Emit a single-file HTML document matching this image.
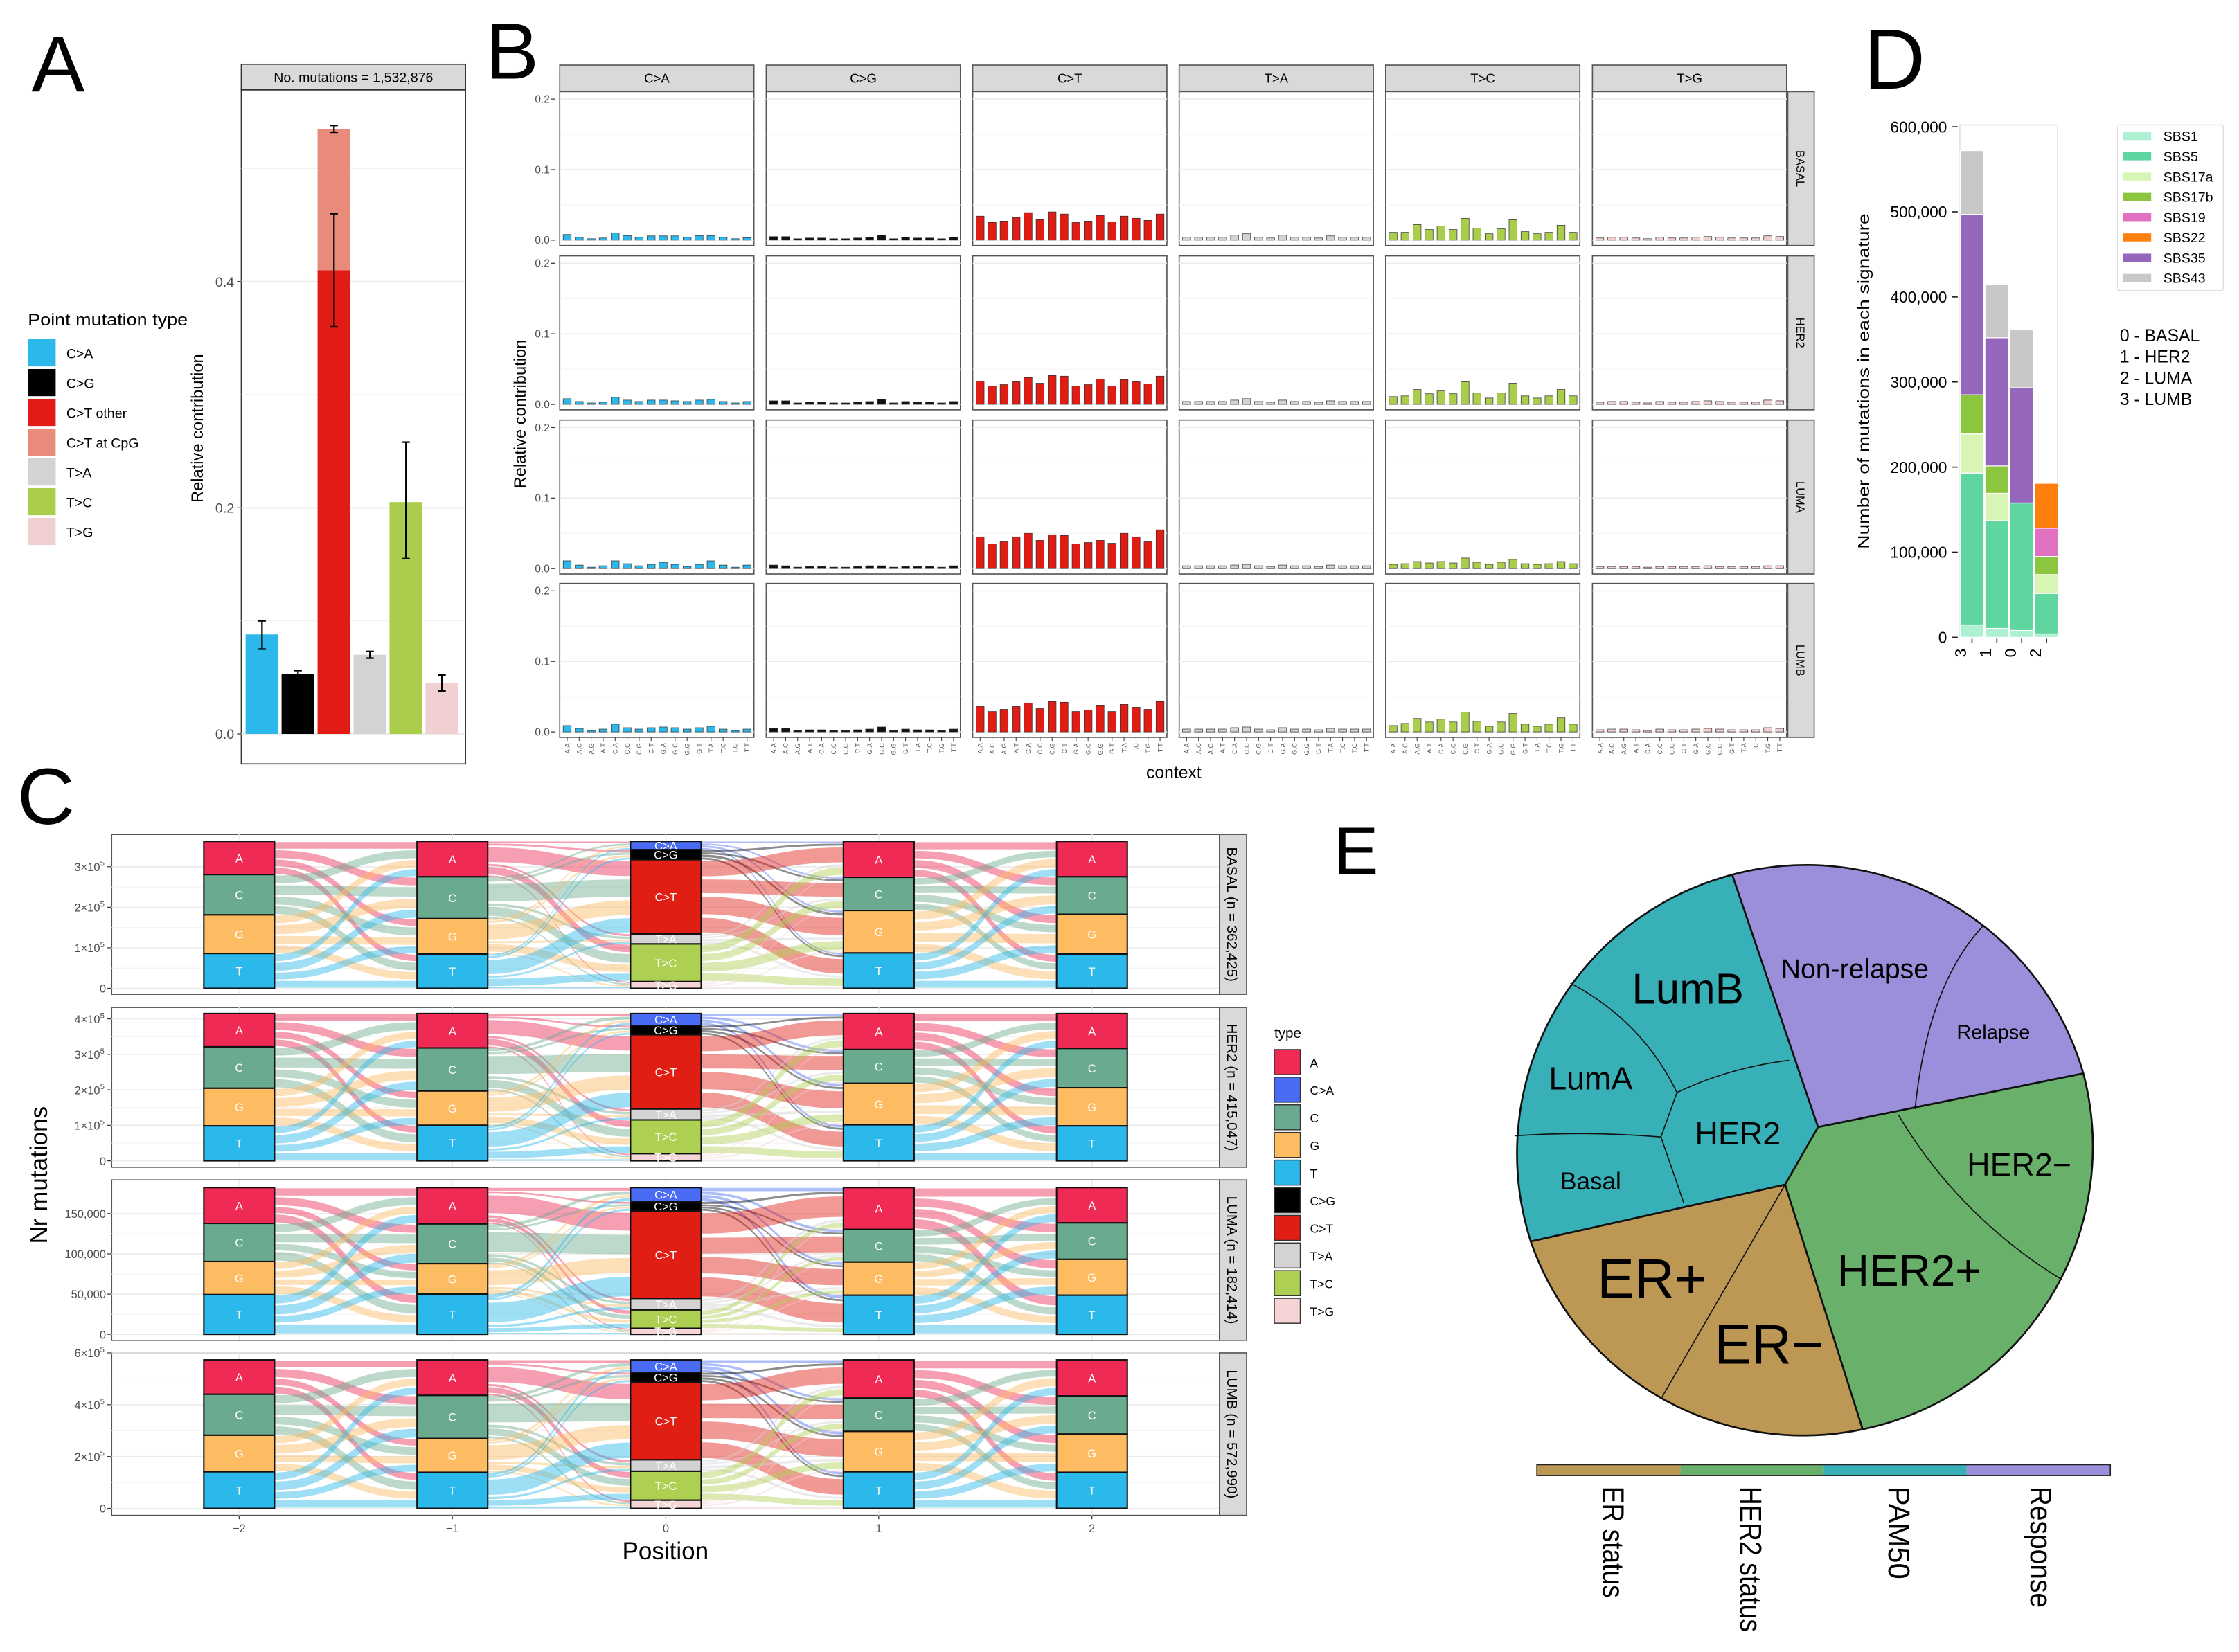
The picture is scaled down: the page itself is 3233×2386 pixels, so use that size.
<!DOCTYPE html>
<html><head><meta charset="utf-8"><style>
html,body{margin:0;padding:0;background:#fff;}
svg{display:block;}
text{font-family:"Liberation Sans",sans-serif;}
</style></head>
<body>
<svg id="fig" xmlns="http://www.w3.org/2000/svg" width="3233" height="2386" viewBox="0 0 1568 1157" preserveAspectRatio="none">
<rect x="0" y="0" width="1568" height="1157" fill="#fff"/>
</svg>
<script>
// ---------------- Panel A data ----------------
const aCats=['C>A','C>G','C>T other','T>A','T>C','T>G'];
const aVals=[0.088,0.053,0.41,0.07,0.205,0.045];
const aErrLo=[0.075,0.051,0.36,0.067,0.155,0.038];
const aErrHi=[0.100,0.056,0.46,0.073,0.258,0.052];
const aCpgTotal=0.535;
const aCpgErr=[0.532,0.538];
const aTicks=[0,0.2,0.4];
const aTickLabels=['0.0','0.2','0.4'];
const aLegend=['C>A','C>G','C>T other','C>T at CpG','T>A','T>C','T>G'];
const aColors=['#2cb8ea','#000000','#e01c14','#e98b7a','#d3d3d3','#abcd4c','#f0d0d0'];

// ---------------- Panel B data ----------------
const bTypes=['C>A','C>G','C>T','T>A','T>C','T>G'];
const bSubtypes=['BASAL','HER2','LUMA','LUMB'];
const bContexts=['A.A','A.C','A.G','A.T','C.A','C.C','C.G','C.T','G.A','G.C','G.G','G.T','T.A','T.C','T.G','T.T'];
const bTicks=[0,0.1,0.2];
const bTickLabels=['0.0','0.1','0.2'];
const BASAL_CA=[0.008,0.004,0.002,0.003,0.010,0.0065,0.004,0.006,0.006,0.006,0.004,0.0065,0.0065,0.004,0.002,0.0035];
const BASAL_CG=[0.005,0.005,0.002,0.003,0.003,0.002,0.002,0.003,0.004,0.007,0.002,0.004,0.003,0.003,0.002,0.004];
const BASAL_CT=[0.034,0.025,0.027,0.032,0.039,0.029,0.040,0.037,0.025,0.027,0.035,0.026,0.034,0.031,0.028,0.037];
const BASAL_TA=[0.004,0.004,0.004,0.004,0.007,0.009,0.004,0.003,0.007,0.004,0.004,0.003,0.006,0.004,0.004,0.004];
const BASAL_TC=[0.011,0.011,0.022,0.015,0.020,0.015,0.031,0.017,0.009,0.016,0.029,0.012,0.009,0.011,0.021,0.011];
const BASAL_TG=[0.003,0.004,0.004,0.003,0.002,0.004,0.003,0.003,0.004,0.005,0.004,0.003,0.003,0.003,0.006,0.005];
const HER2_CA=[0.008,0.004,0.002,0.003,0.010,0.006,0.004,0.006,0.006,0.005,0.004,0.006,0.007,0.004,0.002,0.004];
const HER2_CG=[0.005,0.005,0.002,0.003,0.003,0.002,0.002,0.003,0.004,0.007,0.002,0.004,0.003,0.003,0.002,0.004];
const HER2_CT=[0.033,0.026,0.028,0.032,0.038,0.030,0.041,0.040,0.026,0.028,0.036,0.026,0.035,0.032,0.029,0.040];
const HER2_TA=[0.004,0.004,0.004,0.004,0.006,0.008,0.004,0.003,0.006,0.004,0.004,0.003,0.005,0.004,0.004,0.004];
const HER2_TC=[0.011,0.012,0.021,0.015,0.019,0.015,0.032,0.016,0.009,0.016,0.030,0.012,0.009,0.012,0.021,0.012];
const HER2_TG=[0.003,0.004,0.004,0.003,0.002,0.004,0.003,0.003,0.004,0.005,0.004,0.003,0.003,0.003,0.006,0.005];
const LUMA_CA=[0.011,0.005,0.002,0.004,0.011,0.007,0.004,0.006,0.009,0.006,0.003,0.006,0.011,0.005,0.002,0.005];
const LUMA_CG=[0.005,0.004,0.002,0.003,0.003,0.002,0.002,0.003,0.004,0.004,0.002,0.003,0.003,0.003,0.002,0.004];
const LUMA_CT=[0.045,0.035,0.038,0.045,0.050,0.040,0.048,0.047,0.035,0.037,0.040,0.036,0.050,0.045,0.038,0.055];
const LUMA_TA=[0.004,0.004,0.004,0.004,0.005,0.006,0.004,0.003,0.005,0.004,0.004,0.003,0.005,0.004,0.004,0.004];
const LUMA_TC=[0.006,0.007,0.010,0.008,0.010,0.008,0.015,0.009,0.006,0.009,0.013,0.007,0.006,0.007,0.010,0.007];
const LUMA_TG=[0.003,0.003,0.003,0.003,0.002,0.003,0.003,0.003,0.003,0.004,0.003,0.003,0.003,0.003,0.004,0.004];
const LUMB_CA=[0.009,0.005,0.002,0.004,0.011,0.006,0.004,0.006,0.007,0.006,0.004,0.006,0.008,0.004,0.002,0.004];
const LUMB_CG=[0.005,0.005,0.002,0.003,0.003,0.002,0.002,0.003,0.004,0.007,0.002,0.004,0.003,0.003,0.002,0.004];
const LUMB_CT=[0.036,0.029,0.032,0.036,0.041,0.033,0.043,0.042,0.029,0.031,0.038,0.029,0.039,0.035,0.032,0.043];
const LUMB_TA=[0.004,0.004,0.004,0.004,0.006,0.007,0.004,0.003,0.006,0.004,0.004,0.003,0.005,0.004,0.004,0.004];
const LUMB_TC=[0.009,0.012,0.019,0.014,0.018,0.014,0.028,0.015,0.008,0.014,0.026,0.011,0.008,0.011,0.020,0.011];
const LUMB_TG=[0.003,0.004,0.004,0.003,0.002,0.004,0.003,0.003,0.004,0.005,0.004,0.003,0.003,0.003,0.006,0.005];
const bColors=['#2cb8ea','#111111','#e01c14','#d3d3d3','#abcd4c','#f0d0d0'];

// ---------------- Panel C data ----------------
const cSubtypes=['BASAL','HER2','LUMA','LUMB'];
const cTotals=[362425,415047,182414,572990];
const cTotalLabels=['362,425','415,047','182,414','572,990'];
const cBases=['A','C','G','T'];
const cMuts=['C>A','C>G','C>T','T>A','T>C','T>G'];
const cPositions=['\u22122','\u22121','0','1','2'];
const cBasalFlank=[[61,74,71,64],[65,77,65,63],[66,61,78,65],[65,69,73,63]];
const cHer2Flank=[[61,76,69,64],[63,79,63,65],[66,62,76,66],[64,72,70,64]];
const cLumaFlank=[[66,70,61,73],[67,73,56,74],[77,60,61,72],[65,67,66,72]];
const cLumbFlank=[[63,75,67,67],[65,79,62,66],[70,61,74,67],[66,70,70,66]];
const cBasalMut=[15,18,134,18,68,12];
const cHer2Mut=[22,17,136,20,62,13];
const cLumaMut=[26,17,161,21,34,11];
const cLumbMut=[23,18,142,21,53,15];
const cTickVals=[[0,100000,200000,300000],[0,100000,200000,300000,400000],[0,50000,100000,150000],[0,200000,400000,600000]];
const cTickLabels=[['0','1\u00d710|5','2\u00d710|5','3\u00d710|5'],['0','1\u00d710|5','2\u00d710|5','3\u00d710|5','4\u00d710|5'],['0','50,000','100,000','150,000'],['0','2\u00d710|5','4\u00d710|5','6\u00d710|5']];
const cLegend=['A','C>A','C','G','T','C>G','C>T','T>A','T>C','T>G'];
const cColorMap={'A':'#ee2a55','C>A':'#4a6cf5','C':'#6aaa8f','G':'#fdbb62','T':'#2bb8ea','C>G':'#000000','C>T':'#e01e14','T>A':'#d3d3d3','T>C':'#aed052','T>G':'#f4d4d4'};

// ---------------- Panel D data ----------------
const dGroups=['3','1','0','2'];
const dSigs=['SBS1','SBS5','SBS17a','SBS17b','SBS19','SBS22','SBS35','SBS43'];
const dSBS1=[14500,10400,8000,4000];
const dSBS5=[178500,126600,149800,47400];
const dSBS17a=[46000,32200,0,22300];
const dSBS17b=[46000,32200,0,21300];
const dSBS19=[0,0,0,33200];
const dSBS22=[0,0,0,52800];
const dSBS35=[212000,150600,135500,0];
const dSBS43=[75000,63000,68000,0];
const dTicks=[0,100000,200000,300000,400000,500000,600000];
const dTickLabels=['0','100,000','200,000','300,000','400,000','500,000','600,000'];
const dColors=['#aef0d2','#5fd6a0','#d9f5b5','#8cc63f','#e070c0','#ff7f0e','#9467bd','#c8c8c8'];
const dGroupNames=['0 - BASAL','1 - HER2','2 - LUMA','3 - LUMB'];

// ---------------- Panel E data ----------------
const eCategories=['ER status','HER2 status','PAM50','Response'];
const eColors=['#bd9855','#69b06b','#37b0b8','#9b8fdb'];

const NS='http://www.w3.org/2000/svg';
const svg=document.getElementById('fig');
function mk(tag,attrs,parent){const e=document.createElementNS(NS,tag);for(const k in attrs)e.setAttribute(k,attrs[k]);(parent||svg).appendChild(e);return e;}
function txt(x,y,s,size,anchor,parent,extra){const e=mk('text',Object.assign({x:x,y:y,'font-size':size,'text-anchor':anchor||'start',fill:'#000'},extra||{}),parent);e.textContent=s;return e;}
function grp(parent){return mk('g',{},parent);}

[['A',22,64,56],['B',340,55,56],['C',12,577,56],['D',1305,62,60],['E',934,612,47]].forEach(function(p){
  const t=txt(p[1],p[2],p[0],p[3],'start',svg,{'font-family':'DejaVu Sans, sans-serif'});
  
  
});

// ================= PANEL A =================
(function(){
  const g=grp();
  
  
  const X0=169,X1=326,Y0=63,Y1=535;
  const yA=v=>514-v*792;
  mk('rect',{x:X0,y:45,width:X1-X0,height:18,fill:'#d9d9d9',stroke:'#333','stroke-width':0.8},g);
  const st=txt((X0+X1)/2,57.5,'No. mutations =  1,532,876',9.5,'middle',g);
  
  
  mk('rect',{x:X0,y:Y0,width:X1-X0,height:Y1-Y0,fill:'#fff',stroke:'#333','stroke-width':0.8},g);
  [0.1,0.3,0.5].forEach(v=>mk('line',{x1:X0,x2:X1,y1:yA(v),y2:yA(v),stroke:'#f2f2f2','stroke-width':0.6},g));
  aTicks.forEach((v,i)=>{
    mk('line',{x1:X0,x2:X1,y1:yA(v),y2:yA(v),stroke:'#ebebeb','stroke-width':1},g);
    mk('line',{x1:X0-3,x2:X0,y1:yA(v),y2:yA(v),stroke:'#333','stroke-width':0.6},g);
    const t=txt(X0-5,yA(v)+3.5,aTickLabels[i],9.5,'end',g,{fill:'#4d4d4d'});
    
    
  });
  const step=25.2,bw=23;
  const xb=i=>172+i*step;
  aVals.forEach((v,i)=>{
    const col=i<2?aColors[i]:(i===2?aColors[2]:aColors[i+1]);
    if(i===2){
      const c=mk('rect',{x:xb(i),y:yA(aCpgTotal),width:bw,height:yA(v)-yA(aCpgTotal),fill:aColors[3]},g);
      
      
    }
    const r=mk('rect',{x:xb(i),y:yA(v),width:bw,height:yA(0)-yA(v),fill:col},g);
    
    
  });
  function err(cx,lo,hi){
    mk('line',{x1:cx,x2:cx,y1:yA(lo),y2:yA(hi),stroke:'#000','stroke-width':1.1},g);
    mk('line',{x1:cx-2.7,x2:cx+2.7,y1:yA(lo),y2:yA(lo),stroke:'#000','stroke-width':1.1},g);
    mk('line',{x1:cx-2.7,x2:cx+2.7,y1:yA(hi),y2:yA(hi),stroke:'#000','stroke-width':1.1},g);
  }
  aVals.forEach((v,i)=>err(xb(i)+bw/2,aErrLo[i],aErrHi[i]));
  err(xb(2)+bw/2,aCpgErr[0],aCpgErr[1]);
  const yt=txt(0,0,'Relative contribution',11.5,'middle',g,{transform:'translate(142,300) rotate(-90)'});
  
  
  const lt=txt(19.5,228,'Point mutation type',11.5,'start',g,{textLength:112,lengthAdjust:'spacingAndGlyphs'});
  
  
  aLegend.forEach((s,i)=>{
    const y=237.6+i*20.85;
    const sw=mk('rect',{x:19.5,y:y,width:19.5,height:19,fill:aColors[i]},g);
    
    
    const t=txt(46.5,y+13.3,s,9.5,'start',g);
    
    
  });
})();

// ================= PANEL B =================
(function(){
  const g=grp();
  
  
  const colX=[392,536.6,681.2,825.8,970.4,1115.2],W=136;
  const rowY=[64.2,179.2,294.2,408.6],H=107.8;
  const data={BASAL:[BASAL_CA,BASAL_CG,BASAL_CT,BASAL_TA,BASAL_TC,BASAL_TG],HER2:[HER2_CA,HER2_CG,HER2_CT,HER2_TA,HER2_TC,HER2_TG],LUMA:[LUMA_CA,LUMA_CG,LUMA_CT,LUMA_TA,LUMA_TC,LUMA_TG],LUMB:[LUMB_CA,LUMB_CG,LUMB_CT,LUMB_TA,LUMB_TC,LUMB_TG]};
  bTypes.forEach((t,c)=>{
    mk('rect',{x:colX[c],y:45.6,width:W,height:18.6,fill:'#d9d9d9',stroke:'#555','stroke-width':0.8},g);
    const s=txt(colX[c]+W/2,58,t,9,'middle',g);
    
    
  });
  bSubtypes.forEach((sub,r)=>{
    const top=rowY[r];
    const y=v=>top+104-v*494;
    mk('rect',{x:1252,y:top,width:18.5,height:H,fill:'#d9d9d9',stroke:'#555','stroke-width':0.8},g);
    const rs=txt(0,0,sub,8,'middle',g,{transform:'translate('+1258+','+(top+H/2)+') rotate(90)'});
    
    
    bTicks.forEach((v,i)=>{
      mk('line',{x1:386,x2:389,y1:y(v),y2:y(v),stroke:'#333','stroke-width':0.6},g);
      const tl=txt(385,y(v)+2.6,bTickLabels[i],7.5,'end',g,{fill:'#4d4d4d'});
      
      
    });
    bTypes.forEach((t,c)=>{
      const x0=colX[c];
      mk('rect',{x:x0,y:top,width:W,height:H,fill:'#fff',stroke:'#555','stroke-width':0.8},g);
      [0.05,0.15].forEach(v=>mk('line',{x1:x0,x2:x0+W,y1:y(v),y2:y(v),stroke:'#f3f3f3','stroke-width':0.5},g));
      bTicks.forEach(v=>mk('line',{x1:x0,x2:x0+W,y1:y(v),y2:y(v),stroke:'#ebebeb','stroke-width':0.8},g));
      data[sub][c].forEach((v,i)=>{
        const cx=x0+5.2+i*8.4;
        const b=mk('rect',{x:cx-2.8,y:y(v),width:5.6,height:y(0)-y(v),fill:bColors[c],stroke:'#333','stroke-width':0.35},g);
        
        
      });
      if(r===3){
        bContexts.forEach((cx_,i)=>{
          const cx=x0+5.2+i*8.4;
          mk('line',{x1:cx,x2:cx,y1:top+H,y2:top+H+2.5,stroke:'#333','stroke-width':0.5},g);
          const lbl=txt(0,0,cx_,4.6,'end',g,{fill:'#555',transform:'translate('+(cx+1.6)+','+(top+H+4)+') rotate(-90)'});
          
          
        });
      }
    });
  });
  const xt=txt(822,545,'context',12,'middle',g);
  
  
  const yt=txt(0,0,'Relative contribution',11.5,'middle',g,{transform:'translate(368,290) rotate(-90)'});
  
  
})();

// ================= PANEL C =================
(function(){
  const g=grp();
  
  
  const PX0=78.2,PX1=854;
  const panels=[[584.4,696.4,692.2,607],[705.6,817.5,813,713.6],[826.4,938.7,934.5,850],[947.5,1061.3,1056.4,947.5]];
  const colCx=[167.5,316.8,466.3,615.4,764.7],NW=49.5;
  const flanks=[cBasalFlank,cHer2Flank,cLumaFlank,cLumbFlank];
  const muts=[cBasalMut,cHer2Mut,cLumaMut,cLumbMut];
  function norm(a){const s=a.reduce((p,q)=>p+q,0);return a.map(v=>v/s);}
  cSubtypes.forEach((sub,p)=>{
    const [top,bot,zeroY,tickY]=panels[p];
    const ticks=cTickVals[p];
    const tmax=ticks[ticks.length-1];
    const y=v=>zeroY-v/tmax*(zeroY-tickY);
    const pg=grp(g);
    
    
    mk('rect',{x:PX0,y:top,width:PX1-PX0,height:bot-top,fill:'#fff',stroke:'#555','stroke-width':0.8},pg);
    for(let i=0;i<ticks.length-1;i++){const mv=(ticks[i]+ticks[i+1])/2;mk('line',{x1:PX0,x2:PX1,y1:y(mv),y2:y(mv),stroke:'#f2f2f2','stroke-width':0.5},pg);}
    ticks.forEach((v,i)=>{
      mk('line',{x1:PX0,x2:PX1,y1:y(v),y2:y(v),stroke:'#ebebeb','stroke-width':0.8},pg);
      mk('line',{x1:PX0-3,x2:PX0,y1:y(v),y2:y(v),stroke:'#333','stroke-width':0.6},pg);
      const parts=cTickLabels[p][i].split('|');
      const t=txt(PX0-4,y(v)+3,parts[0],8,'end',pg,{fill:'#4d4d4d'});
      if(parts.length>1){t.textContent=parts[0];const sp=mk('tspan',{dy:-3.5,'font-size':5.5},t);sp.textContent=parts[1];t.setAttribute('x',PX0-5);}
      
      
    });
    colCx.forEach(cx=>mk('line',{x1:cx,x2:cx,y1:top,y2:bot,stroke:'#ebebeb','stroke-width':0.8},pg));
    mk('rect',{x:PX1,y:top,width:19,height:bot-top,fill:'#d9d9d9',stroke:'#555','stroke-width':0.8},pg);
    const st=txt(0,0,sub+' (n = '+cTotalLabels[p]+')',10,'middle',pg,{transform:'translate('+(PX1+5.5)+','+((top+bot)/2)+') rotate(90)'});
    
    
    const total=cTotals[p];
    const cols=[
      {labels:cBases,fr:norm(flanks[p][0])},
      {labels:cBases,fr:norm(flanks[p][1])},
      {labels:cMuts,fr:norm(muts[p])},
      {labels:cBases,fr:norm(flanks[p][2])},
      {labels:cBases,fr:norm(flanks[p][3])}];
    const nodeTop=y(total);
    const H=zeroY-nodeTop;
    cols.forEach(c=>{let acc=nodeTop;c.y0=[];c.h=[];c.fr.forEach(f=>{c.y0.push(acc);c.h.push(f*H);acc+=f*H;});});
    const fg=grp(pg);
    for(let k=0;k<4;k++){
      const L=cols[k],R=cols[k+1];
      const x1=colCx[k]+NW/2,x2=colCx[k+1]-NW/2,xm=(x1+x2)/2;
      const outOff=L.fr.map(()=>0),inOff=R.fr.map(()=>0);
      const ribbons=[];
      L.fr.forEach((fl,i)=>{R.fr.forEach((fr_,j)=>{ribbons.push({i:i,j:j,h:fl*fr_*H});});});
      ribbons.forEach(rb=>{rb.ly=L.y0[rb.i]+outOff[rb.i];outOff[rb.i]+=rb.h;});
      ribbons.slice().sort((a,b)=>a.j-b.j||a.i-b.i).forEach(rb=>{rb.ry=R.y0[rb.j]+inOff[rb.j];inOff[rb.j]+=rb.h;});
      ribbons.forEach(rb=>{
        const sh=rb.h*0.82,pad=(rb.h-sh)/2;
        const a=rb.ly+pad,b=rb.ry+pad;
        const d='M'+x1+','+a+' C'+xm+','+a+' '+xm+','+b+' '+x2+','+b+' L'+x2+','+(b+sh)+' C'+xm+','+(b+sh)+' '+xm+','+(a+sh)+' '+x1+','+(a+sh)+' Z';
        const colorKey=L.labels[rb.i];
        const f=mk('path',{d:d,fill:cColorMap[colorKey],'fill-opacity':0.45},fg);
        
        
      });
    }
    cols.forEach((c,k)=>{
      c.labels.forEach((lab,i)=>{
        const r=mk('rect',{x:colCx[k]-NW/2,y:c.y0[i],width:NW,height:c.h[i],fill:cColorMap[lab],stroke:'#111','stroke-width':1},pg);
        
        
        const t=txt(colCx[k],c.y0[i]+c.h[i]/2+3,lab,8,'middle',pg,{fill:'#fff'});
        
        
      });
    });
  });
  cPositions.forEach((s,i)=>{
    mk('line',{x1:colCx[i],x2:colCx[i],y1:1061.3,y2:1064,stroke:'#333','stroke-width':0.6},g);
    const t=txt(colCx[i],1073,s,8,'middle',g,{fill:'#4d4d4d'});
    
    
  });
  const xt=txt(466,1092,'Position',17,'middle',g);
  
  
  const yt=txt(0,0,'Nr mutations',17,'middle',g,{transform:'translate(33,823) rotate(-90)'});
  
  
  const lt=txt(892.4,727,'type',10,'start',g);
  
  
  cLegend.forEach((s,i)=>{
    const yy=735.1+i*19.35;
    const r=mk('rect',{x:892.4,y:yy,width:18.2,height:17.5,fill:cColorMap[s],stroke:'#333','stroke-width':0.7},g);
    
    
    const t=txt(917.4,yy+12.3,s,8.5,'start',g);
    
    
  });
})();

// ================= PANEL D =================
(function(){
  const g=grp();
  
  
  const X0=1372.5,X1=1441,Y0=87.5,Y1=446.3;
  const y=v=>446.3-v/600000*357.5;
  mk('rect',{x:X0,y:Y0,width:X1-X0,height:Y1-Y0,fill:'#fff',stroke:'#e0e0e0','stroke-width':0.8},g);
  dTicks.forEach((v,i)=>{
    mk('line',{x1:X0-5.5,x2:X0-1.5,y1:y(v),y2:y(v),stroke:'#222','stroke-width':0.8},g);
    const t=txt(X0-9,y(v)+4,dTickLabels[i],11,'end',g,{'font-family':'DejaVu Sans, sans-serif'});
    
    
  });
  const series=[dSBS1,dSBS5,dSBS17a,dSBS17b,dSBS19,dSBS22,dSBS35,dSBS43];
  const bw=16.6,step=17.4;
  dGroups.forEach((gname,gi)=>{
    const x=X0+0.2+gi*step;
    let acc=0;
    series.forEach((s,si)=>{
      const v=s[gi];if(v<=0)return;
      const r=mk('rect',{x:x,y:y(acc+v),width:bw,height:y(acc)-y(acc+v),fill:dColors[si],stroke:'#fff','stroke-width':0.6},g);
      
      
      acc+=v;
    });
    mk('line',{x1:x+bw/2,x2:x+bw/2,y1:Y1+1,y2:Y1+4,stroke:'#222','stroke-width':0.8},g);
    const t=txt(0,0,gname,11,'middle',g,{'font-family':'DejaVu Sans, sans-serif',transform:'translate('+(x+bw/2-4)+','+(Y1+11)+') rotate(-90)'});
    
    
  });
  const yt=txt(0,0,'Number of mutations in each signature',11,'middle',g,{transform:'translate(1309,267) rotate(-90)',textLength:235,lengthAdjust:'spacingAndGlyphs'});
  
  
  const lb=mk('rect',{x:1483,y:87.5,width:74,height:116,fill:'#fff',stroke:'#e0e0e0','stroke-width':0.8,rx:1.5},g);
  
  
  dSigs.forEach((s,i)=>{
    const yy=95.3+i*14.2;
    const r=mk('rect',{x:1487,y:yy-2.8,width:19.5,height:5.6,fill:dColors[i]},g);
    
    
    const t=txt(1515,yy+3.5,s,9.5,'start',g,{'font-family':'DejaVu Sans, sans-serif'});
    
    
  });
  dGroupNames.forEach((s,i)=>{
    const t=txt(1484.5,239+i*14.9,s,12,'start',g,{'font-family':'DejaVu Sans, sans-serif'});
    
    
  });
})();

// ================= PANEL E =================
(function(){
  const g=grp();
  
  
  const R=202;
  const P1=[1273.2,789.4],P2=[1250.1,829.7];
  const Btop=[1213.1,612.6],Brel=[1388.5,648.8],Br1=[1459,751.8],Br2=[1443.6,896],Bbot=[1304.4,1001],Berm=[1163.8,978.7],Bl1=[1072,869.5],Bl2=[1060.8,795.5],Bl3=[1099.8,688.6];
  const Q1=[1329.5,781],Q2=[1341.1,776.8],Q3=[1252.9,742.6],Q4=[1174.4,765.2],Q5=[1163.2,796.3],Q6=[1179.1,842.3];
  const pt=p=>p[0]+','+p[1];
  const arc=p=>' A'+R+','+R+' 0 0 1 '+pt(p);
  const regions=[
    ['region-pam50','M'+pt(Bl1)+arc(Btop)+' L'+pt(P1)+' L'+pt(P2)+' Z',eColors[2]],
    ['region-response','M'+pt(Btop)+arc(Br1)+' L'+pt(P1)+' Z',eColors[3]],
    ['region-her2-status','M'+pt(P1)+' L'+pt(Br1)+arc(Bbot)+' L'+pt(P2)+' Z',eColors[1]],
    ['region-er-status','M'+pt(P2)+' L'+pt(Bbot)+arc(Bl1)+' Z',eColors[0]]];
  regions.forEach(rg=>{
    const p=mk('path',{d:rg[1],fill:rg[2],stroke:'#111','stroke-width':1.3,'stroke-linejoin':'round'},g);
    
    
  });
  const inner=['M'+pt(Brel)+' Q1350,690 '+pt(Q2),'M'+pt(Q1)+' Q1372,852 '+pt(Br2),'M'+pt(P2)+' L'+pt(Berm),
    'M'+pt(Bl3)+' Q1150,715 '+pt(Q4),'M'+pt(Q4)+' Q1210,748 '+pt(Q3),'M'+pt(Q4)+' L'+pt(Q5),'M'+pt(Q5)+' Q1110,792 '+pt(Bl2),'M'+pt(Q5)+' L'+pt(Q6)];
  inner.forEach(d=>{
    const l=mk('path',{d:d,fill:'none',stroke:'#111','stroke-width':0.8},g);
    
    
  });
  const labels=[['LumB',1182,703,30],['Non-relapse',1299,685,19],['Relapse',1396,727.5,14],['LumA',1114,763,22.5],['HER2',1217,801.5,22.5],['Basal',1114,833,17],['HER2\u2212',1414,823.5,22.5],['ER+',1157,909,39],['ER\u2212',1239,955,39],['HER2+',1337,900.5,31]];
  labels.forEach(l=>{
    const t=txt(l[1],l[2],l[0],l[3],'middle',g);
    
    
  });
  const bx0=1076.7,bw=100.2;
  mk('rect',{x:bx0,y:1026.2,width:bw*4,height:6.8,fill:'none',stroke:'#222','stroke-width':1.6},g);
  eCategories.forEach((c,i)=>{
    const r=mk('rect',{x:bx0+i*bw,y:1026.2,width:bw,height:6.8,fill:eColors[i]},g);
    
    
  });
  const lens=[78,102,65,85];
  const bxs=[1122.6,1218.7,1322.6,1422];
  eCategories.forEach((c,i)=>{
    const t=txt(0,0,c,21,'start',g,{'font-family':'DejaVu Sans, sans-serif',textLength:lens[i],lengthAdjust:'spacingAndGlyphs',transform:'translate('+bxs[i]+',1041) rotate(90)'});
    
    
  });
})();
</script>
</body></html>
